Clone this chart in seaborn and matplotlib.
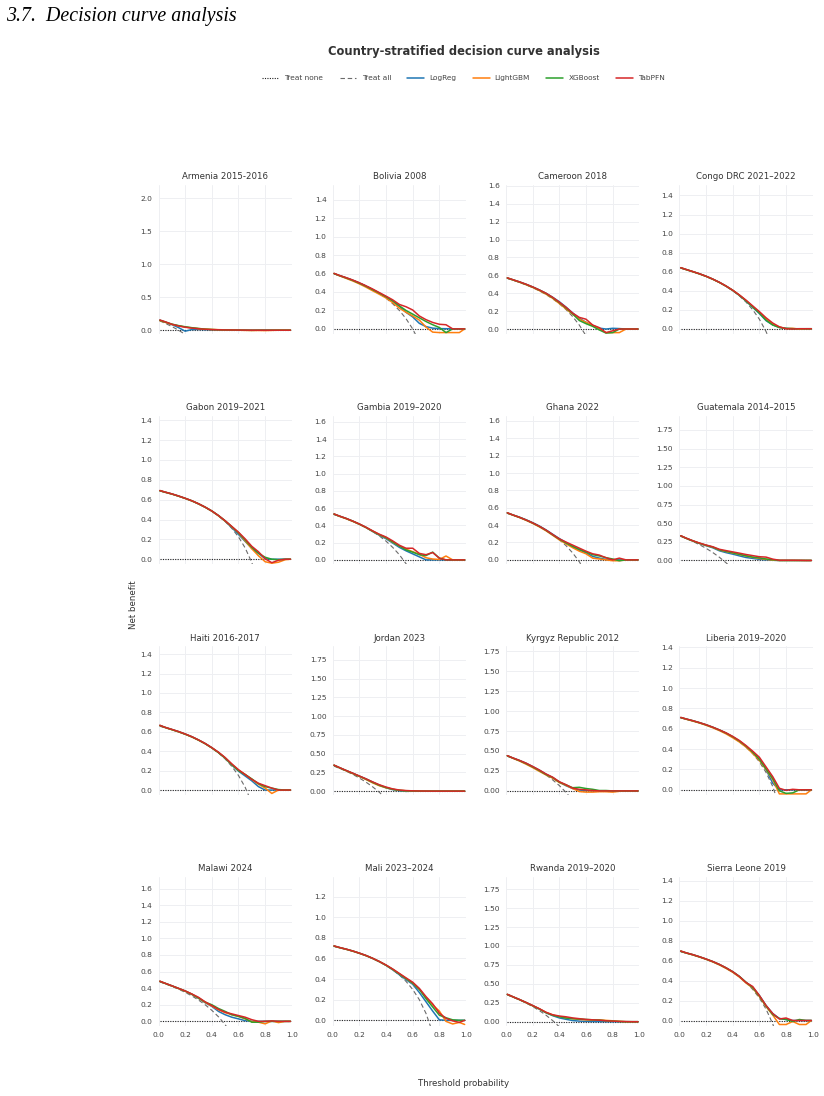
import numpy as np
import pandas as pd
import seaborn as sns
import matplotlib.pyplot as plt
from matplotlib.ticker import MultipleLocator, FormatStrFormatter
from matplotlib.lines import Line2D

# ---------------------------------------------------------------------------
# data
# ---------------------------------------------------------------------------
countries = ["Armenia 2015-2016", "Bolivia 2008", "Cameroon 2018", "Congo DRC 2021\u20132022",
             "Gabon 2019\u20132021", "Gambia 2019\u20132020", "Ghana 2022", "Guatemala 2014\u20132015",
             "Haiti 2016-2017", "Jordan 2023", "Kyrgyz Republic 2012", "Liberia 2019\u20132020",
             "Malawi 2024", "Mali 2023\u20132024", "Rwanda 2019\u20132020", "Sierra Leone 2019"]

y_top = [2.2, 1.56, 1.61, 1.51, 1.445, 1.67, 1.66, 1.94, 1.48, 1.93, 1.81, 1.41, 1.74, 1.39, 1.91, 1.435]
y_step = [0.5, 0.2, 0.2, 0.2, 0.2, 0.2, 0.2, 0.25, 0.2, 0.25, 0.25, 0.2, 0.2, 0.2, 0.25, 0.2]

thresholds = [0.01, 0.05, 0.10, 0.15, 0.20, 0.25, 0.30, 0.35, 0.40, 0.45, 0.50,
              0.55, 0.60, 0.65, 0.70, 0.75, 0.80, 0.85, 0.90, 0.95, 0.99]

treat_none = [0.0] * len(thresholds)

treat_all = [
    [0.141, 0.105, 0.056, 0.0, -0.063],
    [0.596, 0.579, 0.556, 0.529, 0.500, 0.467, 0.429, 0.385, 0.333, 0.273, 0.200, 0.111, 0.0, -0.143],
    [0.566, 0.547, 0.522, 0.494, 0.463, 0.427, 0.386, 0.338, 0.283, 0.218, 0.140, 0.044, -0.075],
    [0.636, 0.621, 0.600, 0.576, 0.550, 0.520, 0.486, 0.446, 0.400, 0.345, 0.280, 0.200, 0.100, -0.029, -0.200],
    [0.687, 0.674, 0.656, 0.635, 0.613, 0.587, 0.557, 0.523, 0.483, 0.436, 0.380, 0.311, 0.225, 0.114, -0.033, -0.240],
    [0.525, 0.505, 0.478, 0.447, 0.413, 0.373, 0.329, 0.277, 0.217, 0.145, 0.060, -0.044, -0.175],
    [0.535, 0.516, 0.489, 0.459, 0.425, 0.387, 0.343, 0.292, 0.233, 0.164, 0.080, -0.022, -0.150],
    [0.323, 0.295, 0.256, 0.212, 0.163, 0.107, 0.043, -0.031, -0.117],
    [0.657, 0.642, 0.622, 0.600, 0.575, 0.547, 0.514, 0.477, 0.433, 0.382, 0.320, 0.244, 0.150, 0.029, -0.133],
    [0.333, 0.305, 0.267, 0.224, 0.175, 0.120, 0.057, -0.015, -0.100],
    [0.434, 0.410, 0.378, 0.341, 0.300, 0.253, 0.200, 0.138, 0.067, -0.018, -0.120],
    [0.707, 0.695, 0.678, 0.659, 0.638, 0.613, 0.586, 0.554, 0.517, 0.473, 0.420, 0.356, 0.275, 0.171, 0.033, -0.160],
    [0.475, 0.453, 0.422, 0.388, 0.350, 0.307, 0.257, 0.200, 0.133, 0.055, -0.040, -0.156],
    [0.717, 0.705, 0.689, 0.671, 0.650, 0.627, 0.600, 0.569, 0.533, 0.491, 0.440, 0.378, 0.300, 0.200, 0.067, -0.120],
    [0.354, 0.326, 0.289, 0.247, 0.200, 0.147, 0.086, 0.015, -0.067],
    [0.687, 0.674, 0.656, 0.635, 0.613, 0.587, 0.557, 0.523, 0.483, 0.436, 0.380, 0.311, 0.225, 0.114, -0.033, -0.240],
]

logreg = [
    [0.150, 0.122, 0.085, 0.040, -0.015, 0.010, 0.012, 0.008, 0.006, 0.004, 0.003, 0.002, 0.001, 0.001, 0.0, 0.0, 0.0, 0.0, 0.0, 0.0, 0.0],
    [0.600, 0.578, 0.553, 0.527, 0.497, 0.462, 0.425, 0.385, 0.345, 0.300, 0.245, 0.180, 0.130, 0.060, 0.025, 0.008, 0.003, 0.002, 0.0, 0.0, 0.0],
    [0.570, 0.551, 0.527, 0.500, 0.470, 0.437, 0.400, 0.355, 0.305, 0.245, 0.180, 0.120, 0.075, 0.040, 0.010, 0.000, 0.008, 0.005, 0.0, 0.0, 0.0],
    [0.640, 0.622, 0.600, 0.577, 0.551, 0.521, 0.487, 0.447, 0.402, 0.350, 0.290, 0.225, 0.160, 0.085, 0.040, 0.015, 0.005, 0.0, 0.0, 0.0, 0.0],
    [0.690, 0.675, 0.657, 0.636, 0.613, 0.588, 0.558, 0.524, 0.485, 0.438, 0.383, 0.318, 0.250, 0.180, 0.110, 0.060, 0.005, 0.0, 0.0, 0.0, 0.0],
    [0.530, 0.507, 0.480, 0.449, 0.414, 0.375, 0.328, 0.285, 0.245, 0.195, 0.145, 0.105, 0.070, 0.035, 0.0, 0.0, 0.0, 0.0, 0.0, 0.0, 0.0],
    [0.540, 0.518, 0.492, 0.462, 0.428, 0.390, 0.345, 0.295, 0.245, 0.200, 0.155, 0.115, 0.080, 0.040, 0.020, 0.005, 0.0, 0.0, 0.0, 0.0, 0.0],
    [0.330, 0.298, 0.262, 0.228, 0.198, 0.170, 0.130, 0.105, 0.085, 0.062, 0.040, 0.028, 0.015, 0.008, 0.003, 0.0, 0.0, 0.0, 0.0, 0.0, 0.0],
    [0.665, 0.645, 0.624, 0.602, 0.577, 0.549, 0.516, 0.479, 0.436, 0.386, 0.328, 0.258, 0.195, 0.145, 0.095, 0.035, 0.0, 0.0, 0.0, 0.0, 0.0],
    [0.345, 0.313, 0.275, 0.238, 0.200, 0.163, 0.120, 0.080, 0.045, 0.020, 0.005, -0.003, 0.0, 0.0, 0.0, 0.0, 0.0, 0.0, 0.0, 0.0, 0.0],
    [0.440, 0.413, 0.382, 0.347, 0.305, 0.260, 0.210, 0.165, 0.110, 0.065, 0.030, 0.010, 0.005, 0.0, 0.0, 0.0, 0.0, 0.0, 0.0, 0.0, 0.0],
    [0.710, 0.696, 0.679, 0.660, 0.639, 0.615, 0.588, 0.557, 0.520, 0.477, 0.425, 0.368, 0.300, 0.200, 0.065, 0.0, 0.0, 0.0, 0.0, 0.0, 0.0],
    [0.482, 0.458, 0.428, 0.397, 0.365, 0.325, 0.278, 0.225, 0.180, 0.120, 0.080, 0.050, 0.030, 0.008, 0.0, 0.0, 0.0, 0.0, 0.0, 0.0, 0.0],
    [0.720, 0.706, 0.690, 0.672, 0.651, 0.628, 0.600, 0.569, 0.533, 0.490, 0.442, 0.395, 0.350, 0.270, 0.180, 0.090, 0.005, 0.0, 0.0, 0.0, 0.0],
    [0.360, 0.330, 0.293, 0.254, 0.212, 0.168, 0.118, 0.080, 0.050, 0.032, 0.015, 0.008, 0.005, 0.003, 0.002, 0.0, 0.0, 0.0, 0.0, 0.0, 0.0],
    [0.693, 0.676, 0.658, 0.637, 0.614, 0.589, 0.560, 0.526, 0.487, 0.440, 0.380, 0.330, 0.250, 0.150, 0.070, 0.020, 0.010, 0.0, 0.0, 0.0, 0.0],
]

lightgbm = [
    [0.145, 0.120, 0.088, 0.065, 0.048, 0.035, 0.025, 0.018, 0.012, 0.008, 0.005, 0.002, 0.0, -0.003, -0.005, -0.004, -0.006, -0.003, 0.0, 0.0, 0.0],
    [0.600, 0.576, 0.548, 0.520, 0.488, 0.452, 0.413, 0.375, 0.335, 0.285, 0.225, 0.180, 0.140, 0.095, 0.020, -0.035, -0.040, -0.040, -0.040, -0.040, 0.0],
    [0.570, 0.550, 0.524, 0.496, 0.465, 0.430, 0.390, 0.343, 0.285, 0.225, 0.165, 0.110, 0.075, 0.040, 0.005, -0.040, -0.040, -0.040, 0.0, 0.0, 0.0],
    [0.640, 0.621, 0.599, 0.576, 0.550, 0.520, 0.486, 0.447, 0.403, 0.352, 0.295, 0.232, 0.170, 0.100, 0.045, 0.018, 0.002, 0.005, -0.005, 0.0, 0.0],
    [0.690, 0.674, 0.656, 0.635, 0.612, 0.587, 0.557, 0.523, 0.484, 0.437, 0.384, 0.325, 0.265, 0.185, 0.105, 0.035, -0.025, -0.040, -0.030, -0.005, 0.0],
    [0.530, 0.505, 0.477, 0.446, 0.412, 0.374, 0.331, 0.290, 0.255, 0.205, 0.160, 0.125, 0.095, 0.065, 0.025, 0.010, 0.005, 0.045, 0.0, 0.0, 0.0],
    [0.540, 0.516, 0.488, 0.456, 0.420, 0.380, 0.335, 0.283, 0.230, 0.185, 0.140, 0.100, 0.070, 0.020, 0.010, 0.0, -0.010, -0.010, 0.0, 0.0, 0.0],
    [0.330, 0.297, 0.262, 0.230, 0.202, 0.178, 0.140, 0.120, 0.100, 0.080, 0.060, 0.042, 0.028, 0.015, 0.005, 0.0, 0.0, 0.0, 0.0, 0.0, 0.0],
    [0.665, 0.644, 0.622, 0.600, 0.575, 0.547, 0.514, 0.477, 0.434, 0.386, 0.330, 0.262, 0.205, 0.160, 0.110, 0.060, 0.020, -0.035, 0.0, 0.0, 0.0],
    [0.345, 0.312, 0.273, 0.235, 0.196, 0.155, 0.110, 0.072, 0.045, 0.025, 0.012, 0.005, 0.003, 0.002, 0.0, 0.0, 0.0, 0.0, 0.0, 0.0, 0.0],
    [0.440, 0.410, 0.375, 0.335, 0.292, 0.245, 0.200, 0.160, 0.105, 0.070, 0.030, -0.008, -0.015, -0.015, -0.010, -0.010, -0.015, -0.005, 0.0, 0.0, 0.0],
    [0.710, 0.694, 0.676, 0.657, 0.635, 0.610, 0.582, 0.550, 0.512, 0.470, 0.420, 0.358, 0.290, 0.200, 0.100, -0.040, -0.040, -0.040, -0.040, -0.040, 0.0],
    [0.482, 0.457, 0.427, 0.396, 0.364, 0.326, 0.280, 0.228, 0.185, 0.140, 0.105, 0.080, 0.060, 0.030, -0.005, -0.010, -0.030, 0.005, -0.015, 0.0, 0.0],
    [0.720, 0.705, 0.689, 0.671, 0.650, 0.627, 0.600, 0.569, 0.534, 0.494, 0.450, 0.405, 0.360, 0.300, 0.220, 0.150, 0.090, -0.010, -0.035, -0.020, -0.040],
    [0.360, 0.329, 0.292, 0.252, 0.210, 0.170, 0.122, 0.088, 0.068, 0.050, 0.040, 0.030, 0.025, 0.022, 0.025, 0.018, 0.012, 0.005, 0.0, 0.0, 0.0],
    [0.693, 0.675, 0.656, 0.635, 0.612, 0.586, 0.556, 0.521, 0.482, 0.434, 0.375, 0.325, 0.240, 0.140, 0.055, -0.040, -0.040, -0.010, -0.040, -0.040, 0.0],
]

xgboost = [
    [0.150, 0.125, 0.092, 0.070, 0.052, 0.038, 0.026, 0.015, 0.010, 0.006, 0.004, 0.002, 0.001, 0.0, -0.002, 0.0, 0.0, 0.0, 0.0, 0.0, 0.0],
    [0.600, 0.578, 0.553, 0.526, 0.495, 0.462, 0.425, 0.388, 0.348, 0.305, 0.250, 0.200, 0.160, 0.120, 0.080, 0.045, 0.015, -0.040, 0.0, 0.0, 0.0],
    [0.570, 0.551, 0.526, 0.499, 0.469, 0.435, 0.397, 0.350, 0.295, 0.235, 0.170, 0.095, 0.060, 0.030, -0.010, -0.045, -0.040, 0.0, 0.0, 0.0, 0.0],
    [0.640, 0.622, 0.600, 0.577, 0.551, 0.521, 0.487, 0.448, 0.404, 0.352, 0.293, 0.228, 0.165, 0.090, 0.040, 0.012, 0.003, 0.0, 0.0, 0.0, 0.0],
    [0.690, 0.675, 0.657, 0.636, 0.613, 0.588, 0.558, 0.524, 0.486, 0.440, 0.387, 0.328, 0.268, 0.195, 0.120, 0.060, 0.020, 0.0, -0.005, 0.0, 0.0],
    [0.530, 0.507, 0.480, 0.449, 0.414, 0.376, 0.333, 0.292, 0.258, 0.208, 0.160, 0.115, 0.090, 0.060, 0.050, 0.090, 0.020, 0.0, 0.0, 0.0, 0.0],
    [0.540, 0.517, 0.490, 0.459, 0.424, 0.385, 0.340, 0.288, 0.238, 0.195, 0.155, 0.120, 0.090, 0.060, 0.045, 0.025, 0.010, -0.010, 0.0, 0.0, 0.0],
    [0.330, 0.298, 0.263, 0.231, 0.204, 0.180, 0.142, 0.122, 0.102, 0.082, 0.062, 0.045, 0.035, 0.020, 0.010, 0.0, 0.0, 0.0, 0.0, 0.0, 0.0],
    [0.665, 0.645, 0.623, 0.601, 0.576, 0.548, 0.515, 0.478, 0.435, 0.386, 0.330, 0.262, 0.200, 0.160, 0.115, 0.065, 0.035, 0.020, 0.005, 0.0, 0.0],
    [0.345, 0.313, 0.275, 0.237, 0.199, 0.160, 0.117, 0.078, 0.048, 0.025, 0.010, 0.004, 0.002, 0.0, 0.0, 0.0, 0.0, 0.0, 0.0, 0.0, 0.0],
    [0.440, 0.412, 0.380, 0.343, 0.300, 0.255, 0.205, 0.168, 0.110, 0.075, 0.040, 0.045, 0.030, 0.020, 0.005, 0.005, 0.0, 0.0, 0.0, 0.0, 0.0],
    [0.710, 0.696, 0.679, 0.660, 0.639, 0.615, 0.588, 0.558, 0.522, 0.480, 0.430, 0.370, 0.300, 0.205, 0.110, -0.010, -0.035, -0.030, 0.0, 0.0, 0.0],
    [0.482, 0.458, 0.428, 0.397, 0.366, 0.328, 0.282, 0.232, 0.200, 0.155, 0.120, 0.080, 0.060, 0.035, -0.010, -0.010, 0.0, 0.0, 0.0, 0.0, 0.0],
    [0.720, 0.706, 0.690, 0.672, 0.651, 0.628, 0.601, 0.570, 0.535, 0.495, 0.450, 0.405, 0.362, 0.300, 0.210, 0.130, 0.050, 0.025, 0.005, 0.0, 0.0],
    [0.360, 0.330, 0.293, 0.253, 0.211, 0.168, 0.120, 0.085, 0.065, 0.048, 0.040, 0.035, 0.030, 0.025, 0.020, 0.012, 0.008, 0.003, 0.0, 0.0, 0.0],
    [0.693, 0.676, 0.658, 0.637, 0.614, 0.589, 0.560, 0.526, 0.488, 0.441, 0.382, 0.330, 0.245, 0.145, 0.060, 0.020, 0.010, -0.010, 0.010, 0.0, 0.0],
]

tabpfn = [
    [0.155, 0.128, 0.090, 0.065, 0.045, 0.032, 0.022, 0.014, 0.009, 0.006, 0.004, 0.003, 0.002, 0.001, 0.0, 0.0, 0.0, 0.0, 0.0, 0.0, 0.0],
    [0.602, 0.580, 0.556, 0.530, 0.500, 0.467, 0.432, 0.393, 0.355, 0.315, 0.265, 0.240, 0.205, 0.140, 0.100, 0.070, 0.050, 0.045, 0.0, 0.0, 0.0],
    [0.572, 0.552, 0.528, 0.501, 0.471, 0.437, 0.400, 0.354, 0.300, 0.243, 0.178, 0.130, 0.110, 0.045, 0.015, -0.040, -0.020, 0.0, 0.0, 0.0, 0.0],
    [0.642, 0.623, 0.601, 0.578, 0.552, 0.522, 0.488, 0.449, 0.405, 0.355, 0.300, 0.240, 0.180, 0.115, 0.060, 0.020, 0.0, -0.003, 0.0, 0.0, 0.0],
    [0.692, 0.676, 0.658, 0.637, 0.614, 0.589, 0.559, 0.525, 0.486, 0.440, 0.388, 0.330, 0.272, 0.205, 0.130, 0.075, 0.005, -0.035, -0.010, 0.0, 0.0],
    [0.532, 0.508, 0.481, 0.450, 0.416, 0.378, 0.336, 0.297, 0.265, 0.220, 0.170, 0.135, 0.135, 0.075, 0.060, 0.085, 0.020, 0.0, 0.0, 0.0, 0.0],
    [0.542, 0.518, 0.491, 0.460, 0.426, 0.387, 0.343, 0.292, 0.242, 0.205, 0.170, 0.135, 0.100, 0.070, 0.055, 0.025, 0.0, 0.020, 0.0, 0.0, 0.0],
    [0.332, 0.300, 0.265, 0.234, 0.207, 0.184, 0.150, 0.132, 0.115, 0.098, 0.080, 0.065, 0.050, 0.045, 0.018, 0.003, 0.003, 0.003, 0.002, 0.0, 0.0],
    [0.667, 0.646, 0.625, 0.603, 0.578, 0.550, 0.517, 0.480, 0.437, 0.390, 0.335, 0.270, 0.210, 0.160, 0.110, 0.070, 0.045, 0.020, 0.0, 0.0, 0.0],
    [0.347, 0.315, 0.277, 0.240, 0.202, 0.164, 0.123, 0.085, 0.055, 0.030, 0.015, 0.008, 0.004, 0.002, 0.001, 0.0, 0.0, 0.0, 0.0, 0.0, 0.0],
    [0.442, 0.414, 0.383, 0.348, 0.306, 0.262, 0.212, 0.172, 0.115, 0.078, 0.035, 0.020, 0.013, 0.005, 0.0, 0.0, 0.0, 0.0, 0.0, 0.0, 0.0],
    [0.712, 0.697, 0.680, 0.661, 0.640, 0.616, 0.589, 0.560, 0.525, 0.485, 0.435, 0.380, 0.320, 0.225, 0.130, 0.015, -0.005, 0.005, 0.0, 0.0, 0.0],
    [0.484, 0.459, 0.429, 0.398, 0.367, 0.330, 0.290, 0.235, 0.190, 0.145, 0.110, 0.090, 0.070, 0.050, 0.020, 0.0, 0.0, 0.005, 0.0, 0.0, 0.0],
    [0.722, 0.707, 0.691, 0.673, 0.652, 0.629, 0.602, 0.571, 0.537, 0.498, 0.455, 0.412, 0.370, 0.310, 0.230, 0.160, 0.070, 0.020, -0.005, -0.020, 0.0],
    [0.362, 0.331, 0.294, 0.255, 0.214, 0.172, 0.125, 0.092, 0.075, 0.065, 0.050, 0.040, 0.030, 0.025, 0.020, 0.012, 0.008, 0.004, 0.002, 0.0, 0.0],
    [0.695, 0.677, 0.659, 0.638, 0.615, 0.590, 0.561, 0.527, 0.488, 0.440, 0.380, 0.340, 0.250, 0.150, 0.070, 0.015, 0.025, 0.0, 0.0, 0.0, 0.0],
]

models = ["LogReg", "LightGBM", "XGBoost", "TabPFN"]
model_nb = [logreg, lightgbm, xgboost, tabpfn]
colors = ["#1f77b4", "#ff7f0e", "#2ca02c", "#d62728"]

# ---------------------------------------------------------------------------
sns.set_theme(style="white")
plt.rcParams['font.family'] = ['DejaVu Sans']

W, H = 824, 1096
fig = plt.figure(figsize=(W / 100, H / 100), dpi=100)

lefts = [158.5, 332.7, 506.0, 679.4]
tops = [185.0, 415.7, 646.4, 877.0]
aw, ah = 133.3, 148.5
grid_col = "#eeeff2"
txt_col = "#444444"

for i, name in enumerate(countries):
    r, c = divmod(i, 4)
    ax = fig.add_axes([lefts[c] / W, 1 - (tops[r] + ah) / H, aw / W, ah / H])

    rows = []
    for m, nb in zip(models, model_nb):
        for t, v in zip(thresholds, nb[i]):
            rows.append((t, v, m))
    df = pd.DataFrame(rows, columns=["threshold", "net_benefit", "model"])

    ax.plot(thresholds, treat_none, color="#222222", lw=0.8, ls=(0, (1, 1.2)), zorder=2)
    ta = treat_all[i]
    ax.plot(thresholds[:len(ta)], ta, color="#6b6b6b", lw=0.8, ls=(0, (4, 2.5)), zorder=2)
    sns.lineplot(data=df, x="threshold", y="net_benefit", hue="model", hue_order=models,
                 palette=colors, estimator=None, sort=False, linewidth=1.1,
                 legend=False, ax=ax, zorder=3)

    ax.set_xlim(0, 1)
    ax.set_ylim(-0.05, y_top[i])
    ax.xaxis.set_major_locator(MultipleLocator(0.2))
    ax.yaxis.set_major_locator(MultipleLocator(y_step[i]))
    ax.xaxis.set_major_formatter(FormatStrFormatter('%.1f'))
    fmt = '%.2f' if y_step[i] == 0.25 else '%.1f'
    ax.yaxis.set_major_formatter(FormatStrFormatter(fmt))
    ax.set_xlabel("")
    ax.set_ylabel("")
    ax.grid(True, color=grid_col, lw=0.7)
    ax.set_axisbelow(True)
    for s in ax.spines.values():
        s.set_visible(False)
    ax.tick_params(length=0, labelsize=5.4, labelcolor=txt_col, pad=4.5)
    if r < 3:
        ax.tick_params(labelbottom=False)
    ax.set_title(name, fontsize=6.2, color="#333333", pad=4)

fig.text(6 / W, 1 - 21 / H, "3.7.  Decision curve analysis", family="Liberation Serif",
         style="italic", fontsize=14.3, va="baseline", ha="left", color="black")
fig.text(463.5 / W, 1 - 52 / H, "Country-stratified decision curve analysis",
         fontsize=8.3, weight="bold", ha="center", va="center", color="#333333")

handles = [Line2D([], [], color="#222222", lw=0.8, ls=(0, (1, 1.2))),
           Line2D([], [], color="#6b6b6b", lw=0.8, ls=(0, (4, 2.5)))]
handles += [Line2D([], [], color=col, lw=1.1) for col in colors]
labels = ["Treat none", "Treat all"] + models
fig.legend(handles, labels, loc="center", bbox_to_anchor=(463.5 / W, 1 - 78 / H), ncol=6,
           frameon=False, fontsize=5.3, handlelength=2.3, handletextpad=0.7,
           columnspacing=2.2, labelcolor=txt_col)

fig.text(133 / W, 1 - 605 / H, "Net benefit", rotation=90, ha="center", va="center",
         fontsize=6.2, color="#333333")
fig.text(463.5 / W, 1 - 1083 / H, "Threshold probability", ha="center", va="center",
         fontsize=6.2, color="#333333")

fig.savefig("out.png", dpi=100)
